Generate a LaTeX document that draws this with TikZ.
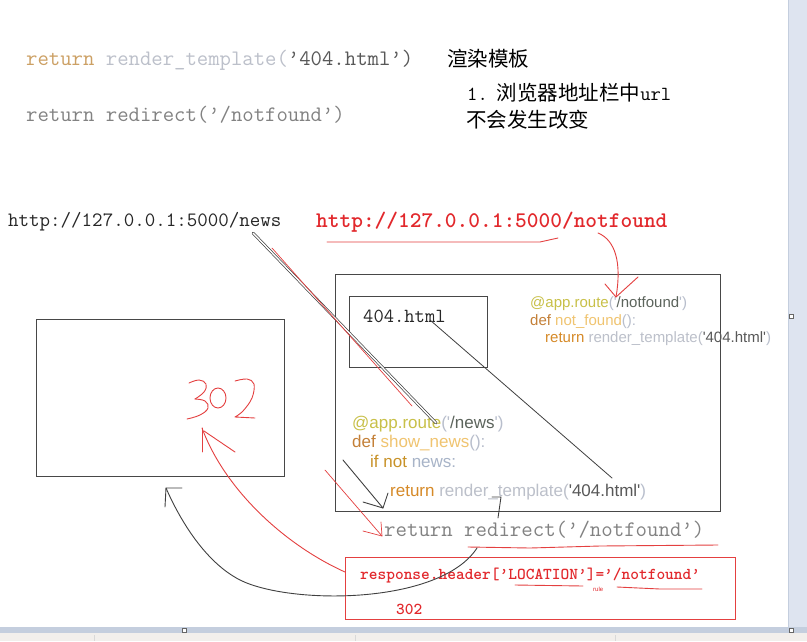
\documentclass[tikz,border=0pt]{standalone}
\usepackage{fontspec}
\newfontfamily\cjk{Noto Sans CJK SC}
\newfontfamily\sans{Liberation Sans}
\newfontfamily\bmono{lmmonolt10-bold.otf}[Ligatures=TeX]
\definecolor{tanc}{RGB}{204,160,100}
\definecolor{lgray}{RGB}{188,192,202}
\definecolor{dgray}{RGB}{88,88,88}
\definecolor{mgray}{RGB}{130,130,130}
\definecolor{kwret}{RGB}{214,138,40}
\definecolor{deco}{RGB}{200,192,72}
\definecolor{kwdef}{RGB}{196,128,56}
\definecolor{fname}{RGB}{240,196,112}
\definecolor{punc}{RGB}{184,190,204}
\definecolor{strc}{RGB}{92,100,92}
\definecolor{ifc}{RGB}{200,146,40}
\definecolor{varc}{RGB}{168,180,200}
\definecolor{penred}{RGB}{228,64,64}
\definecolor{txtred}{RGB}{226,40,44}
\definecolor{strip}{RGB}{222,228,240}
\definecolor{stripd}{RGB}{196,206,222}
\definecolor{statusc}{RGB}{242,239,236}
\newcommand{\myrq}{\textquoteright}
\begin{document}
\begin{tikzpicture}[x=1pt,y=-1pt,
  lbl/.style={inner sep=0pt, anchor=base west},
  box/.style={draw=black!72, line width=1pt, inner sep=0pt},
  ink/.style={draw=black!75, line width=0.9pt, line cap=round, line join=round},
  pen/.style={draw=penred, line width=0.9pt, line cap=round, line join=round},
  handle/.style={draw=black!60, fill=white, line width=0.5pt, minimum size=4pt, inner sep=0pt}]
\useasboundingbox (0,0) rectangle (807,641);
\fill[white] (0,0) rectangle (807,641);
% window chrome
\fill[strip] (788,0) rectangle (807,627);
\draw[stripd, line width=1pt] (788,0) -- (788,627);
\fill[stripd] (0,627) rectangle (807,633);
\fill[statusc] (0,633) rectangle (807,641);
\draw[black!15] (94,635) -- (94,641) (355,635) -- (355,641) (615,635) -- (615,641);
\node[handle] (h1) at (791,316) {};
\node[handle] (h2) at (184,630) {};
\node[handle] (h3) at (791,630) {};

% top text
\node[lbl, font=\fontsize{22.1}{26}\selectfont\ttfamily] (t1) at (26,65)
  {\textcolor{tanc}{return} \textcolor{lgray}{render\_template(}\textcolor{dgray}{\myrq404.html\myrq)}};
\node[lbl, font=\fontsize{22.1}{26}\selectfont\ttfamily, text=mgray] (t2) at (26,121)
  {return redirect(\myrq/notfound\myrq)};
\node[lbl, font=\fontsize{20.5}{24}\selectfont\cjk] (c1) at (447,66) {渲染模板};
\node[lbl] (c2) at (467,100)
  {{\ttfamily\fontsize{20}{24}\selectfont 1.}\hspace{9pt}{\cjk\fontsize{20.5}{24}\selectfont 浏览器地址栏中}{\ttfamily\fontsize{20}{24}\selectfont url}};
\node[lbl, font=\fontsize{20.5}{24}\selectfont\cjk] (c3) at (466,127) {不会发生改变};

% urls
\node[lbl, font=\fontsize{20.4}{24}\selectfont\ttfamily, text=black!85] (u1) at (8,226)
  {http://127.0.0.1:5000/news};
\node[lbl, font=\fontsize{22.3}{26}\selectfont\bmono, text=txtred] (u2) at (316,227)
  {http://127.0.0.1:5000/notfound};
\draw[pen] (327,242) -- (540,242) -- (558,238);

% boxes
\node[box, minimum width=248, minimum height=157] (left) at (160,397.5) {};
\node[box, minimum width=385, minimum height=237] (big) at (527.5,392.5) {};
\node[box, minimum width=138, minimum height=71] (inner) at (418,331.5) {};
\node[lbl, font=\fontsize{20}{24}\selectfont\ttfamily, text=black!85] (html) at (363,322) {404.html};

% notfound route code
\node[lbl, font=\fontsize{15}{18}\selectfont\sans] (r1) at (530,307)
  {\textcolor{deco}{@app.route}\textcolor{punc}{('}\textcolor{strc}{/notfound}\textcolor{punc}{')}};
\node[lbl, font=\fontsize{15}{18}\selectfont\sans] (r2) at (530,325)
  {\textcolor{kwdef}{def} \textcolor{fname}{not\_found}\textcolor{punc}{():}};
\node[lbl, font=\fontsize{15}{18}\selectfont\sans] (r3) at (545,342)
  {\textcolor{kwret}{return} \textcolor{lgray}{render\_template(}\textcolor{dgray}{'404.html'}\textcolor{punc}{)}};

% news route code
\node[lbl, font=\fontsize{17}{20}\selectfont\sans] (n1) at (352,428)
  {\textcolor{deco}{@app.route}\textcolor{punc}{('}\textcolor{strc}{/news}\textcolor{punc}{')}};
\node[lbl, font=\fontsize{17}{20}\selectfont\sans] (n2) at (352,447)
  {\textcolor{kwdef}{def} \textcolor{fname}{show\_news}\textcolor{punc}{():}};
\node[lbl, font=\fontsize{17}{20}\selectfont\sans] (n3) at (370,467)
  {\textcolor{ifc}{if not} \textcolor{varc}{news:}};
\node[lbl, font=\fontsize{17}{20}\selectfont\sans] (n4) at (390,496)
  {\textcolor{kwret}{return} \textcolor{lgray}{render\_template(}\textcolor{dgray}{'404.html'}\textcolor{punc}{)}};

% redirect line under big box
\node[lbl, font=\fontsize{22.2}{26}\selectfont\ttfamily, text=mgray] (rd) at (384,536)
  {return redirect(\myrq/notfound\myrq)};
\draw[pen] (468,547) -- (530,548) -- (600,546) -- (718,545);

% red response box
\node[box, draw=penred, minimum width=390, minimum height=62] (resp) at (540,588) {};
\node[lbl, font=\fontsize{16.6}{20}\selectfont\bmono, text=txtred] (hdr) at (360,579)
  {response.header['LOCATION']='/notfound'};
\node[lbl, font=\fontsize{6}{7}\selectfont\sans, text=txtred] (rule) at (593,591) {rule};
\draw[pen] (515,585) -- (583,586);
\draw[pen] (617,587) -- (660,589) -- (702,589);
\node[lbl, font=\fontsize{16.6}{20}\selectfont\bmono, text=txtred] (code) at (396,614) {302};

% hand-drawn 302 in left box
\draw[pen] plot[smooth, tension=0.7] coordinates {(189,383) (199,380) (206,384) (204,392) (195,399)};
\draw[pen] plot[smooth, tension=0.7] coordinates {(195,399) (205,401) (208,408) (200,415) (187,419)};
\draw[pen] (218,398) ellipse[x radius=8, y radius=10];
\draw[pen] plot[smooth, tension=0.6] coordinates {(235,381) (247,379) (254,384) (252,398) (243,411) (235,417)} -- (255,418);
\coordinate (p302) at (202,428);
\draw[pen] (202,452) -- (p302);
\draw[pen] (204,431) -- (235,452);
\coordinate (respL) at (345,572);
\draw[pen] (p302) .. controls (225,490) and (285,545) .. (respL);

% black curved arrow back to browser
\coordinate (rdStart) at (477,548);
\coordinate (browser) at (166,488);
\draw[ink] (rdStart) .. controls (440,605) and (290,605) .. (240,580) .. controls (205,562) and (180,520) .. (browser);
\draw[ink] (165,507) -- (browser) -- (182,488);

% double line from /news url to @app.route('/news')
\coordinate (newsA) at (253,233);
\coordinate (newsB) at (436,423);
\draw[ink, line width=0.7pt, double=white, double distance=1.4pt] (newsA) -- (newsB);
\draw[pen, line width=0.7pt] (272,248) -- (412,406);

% line from 404.html to render_template('404.html')
\coordinate (htmlA) at (430,320);
\coordinate (htmlB) at (612,478);
\draw[ink, line width=0.8pt] (htmlA) -- (htmlB);

% black arrow to return in show_news
\coordinate (arrTip) at (383,508);
\draw[ink] (343,460) -- (arrTip);
\draw[ink] (388,493) -- (arrTip) -- (363,502);
\draw[ink] (492,497) -- (501,497) -- (498,518);

% red arrow to return redirect
\coordinate (rdTip) at (382,536);
\draw[pen, line width=0.7pt] (325,470) -- (rdTip);
\draw[pen, line width=0.7pt] (363,531) -- (rdTip) -- (381,522);

% red arrow from /notfound url to route
\coordinate (urlNF) at (598,233);
\coordinate (routeNF) at (616,297);
\draw[pen] (urlNF) .. controls (615,240) and (622,262) .. (routeNF);
\draw[pen] (605,284) -- (routeNF) -- (638,277);
\end{tikzpicture}
\end{document}
